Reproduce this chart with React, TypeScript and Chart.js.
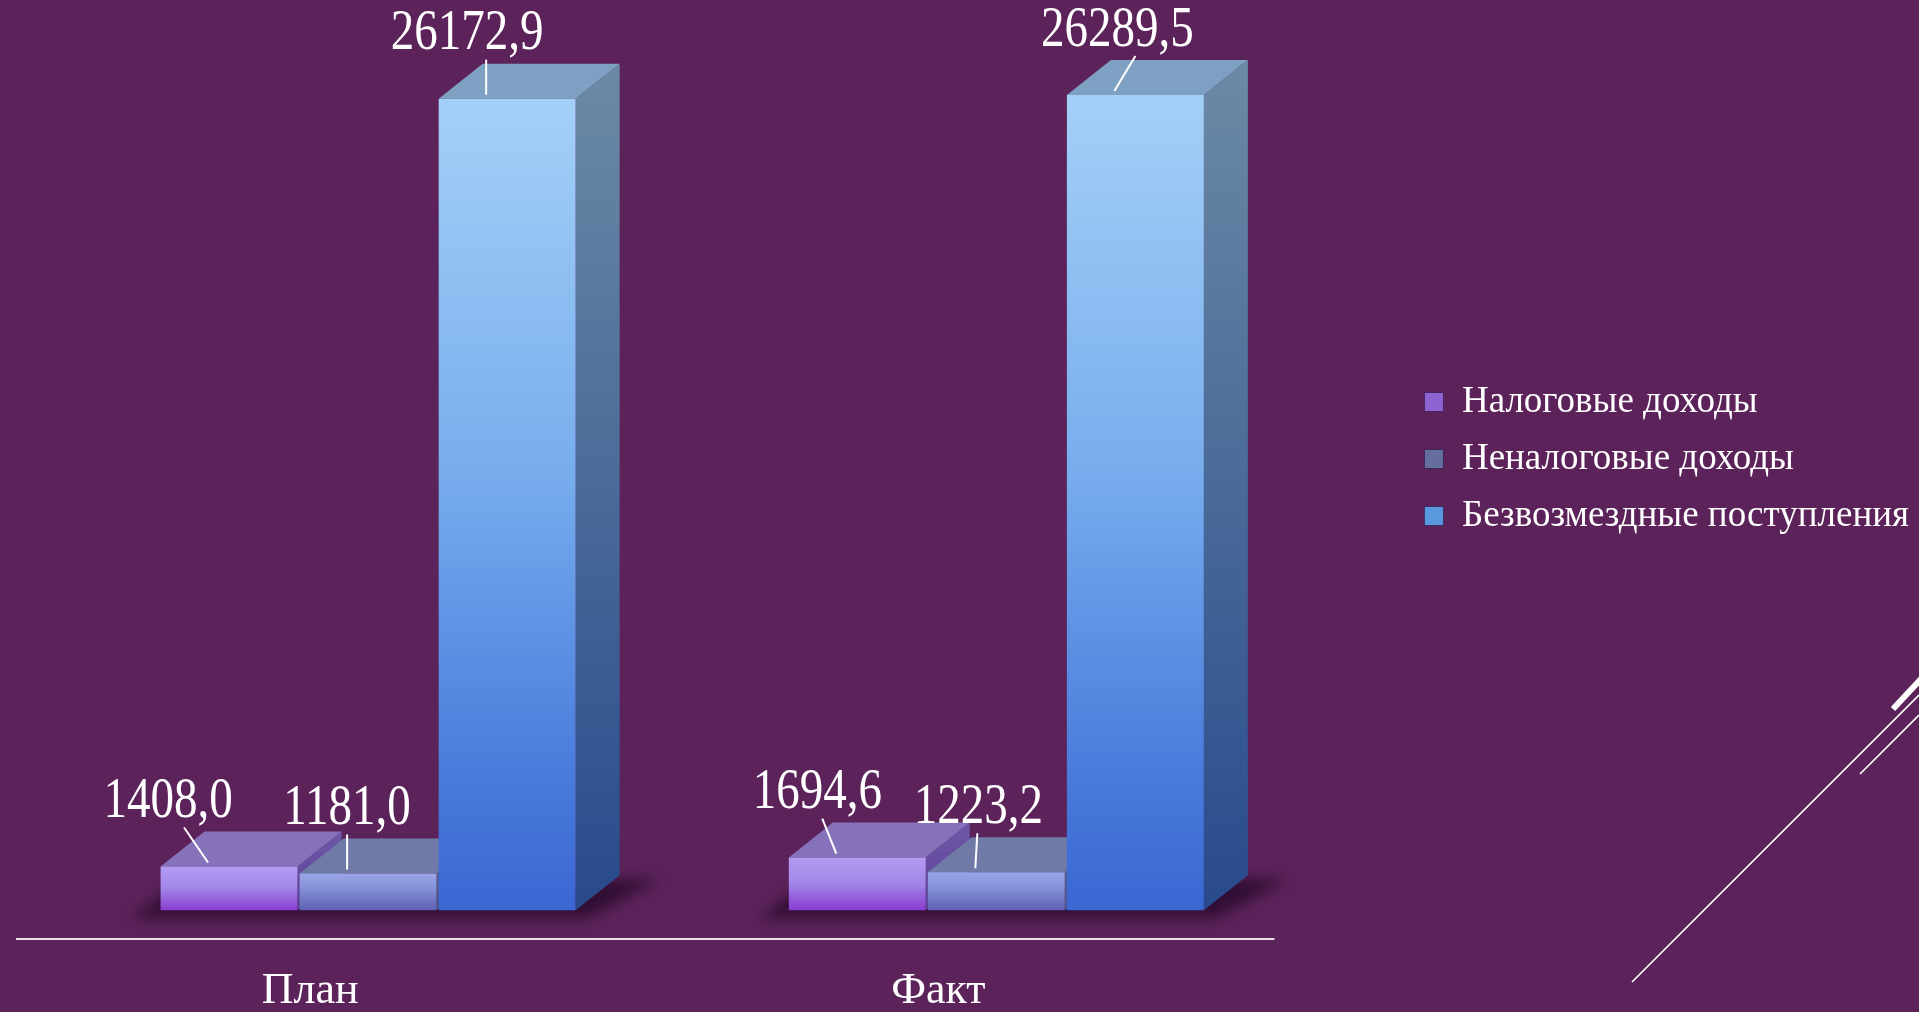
import React, { useEffect, useRef } from 'react';
import { Chart, registerables } from 'chart.js';

Chart.register(...registerables);

// ---------- data ----------
const CATEGORIES = ['План', 'Факт'];
const SERIES_NAMES = ['Налоговые доходы', 'Неналоговые доходы', 'Безвозмездные поступления'];
const TAX_REVENUE = [1408.0, 1694.6];
const NON_TAX_REVENUE = [1181.0, 1223.2];
const GRANTS = [26172.9, 26289.5];
const SERIES_VALUES = [TAX_REVENUE, NON_TAX_REVENUE, GRANTS];

const Y_MIN = -930;
const Y_MAX = 28000;

// ---------- styles / layout ----------
const FONT = '"Liberation Serif", "Times New Roman", serif';
const BG = '#5C235A';
const FRONT_STOPS: [number, string][][] = [
  [[0, '#B49CF2'], [0.5, '#A185E8'], [1, '#8A3DD0']],
  [[0, '#99A6E6'], [0.4, '#8591D8'], [1, '#5F60B3']],
  [[0, '#A3D0F7'], [0.45, '#79AEEE'], [0.8, '#4D7FDD'], [1, '#3A66D2']],
];
const SIDE_COLORS = [['#6F58A8', '#5B3F98'], ['#5F6898', '#4D5488'], ['#6C8AA5', '#284A8C']];
const TOP_COLORS = ['#8672BA', '#6F7BA6', '#7EA0C3'];
const LEGEND_COLORS = ['#8F62D2', '#666E9F', '#5A98E0'];
const DEPTH_X = 44;
const DEPTH_Y = 35;
const LABEL_DX = [[-61, -40], [-21, -18], [-40, -18]];
const LEADER_DX = [[-45, -35], [-21, -19], [-21, 0]];

const fmt = (v: number) => v.toFixed(1).replace('.', ',');

const bar3d = {
  id: 'bar3d',
  beforeDatasetsDraw(chart: any) {
    const ctx = chart.ctx;
    const bars: any[] = [];
    chart.data.datasets.forEach((_: any, di: number) => {
      const meta = chart.getDatasetMeta(di);
      meta.data.forEach((el: any, i: number) => {
        bars.push({ di, i, p: el.getProps(['x', 'y', 'base', 'width'], true) });
      });
    });
    // floor shadows
    CATEGORIES.forEach((_, ci) => {
      const group = bars.filter((b) => b.i === ci);
      if (!group.length) return;
      const left = Math.min(...group.map((b) => b.p.x - b.p.width / 2));
      const right = Math.max(...group.map((b) => b.p.x + b.p.width / 2));
      const base = group[0].p.base;
      ctx.save();
      ctx.filter = 'blur(7px)';
      ctx.fillStyle = 'rgba(30,6,36,0.7)';
      ctx.beginPath();
      ctx.moveTo(left - 30, base + 8);
      ctx.lineTo(right + 12, base + 8);
      ctx.lineTo(right + DEPTH_X + 40, base - DEPTH_Y + 4);
      ctx.lineTo(left + DEPTH_X - 20, base - DEPTH_Y + 4);
      ctx.closePath();
      ctx.fill();
      ctx.restore();
    });
    // side and top faces, left to right
    bars.sort((a, b) => a.p.x - b.p.x);
    for (const b of bars) {
      const { x, y, base, width } = b.p;
      const l = x - width / 2;
      const r = x + width / 2;
      ctx.save();
      const g = ctx.createLinearGradient(0, y - DEPTH_Y, 0, base);
      g.addColorStop(0, SIDE_COLORS[b.di][0]);
      g.addColorStop(1, SIDE_COLORS[b.di][1]);
      ctx.fillStyle = g;
      ctx.beginPath();
      ctx.moveTo(r, y);
      ctx.lineTo(r + DEPTH_X, y - DEPTH_Y);
      ctx.lineTo(r + DEPTH_X, base - DEPTH_Y);
      ctx.lineTo(r, base);
      ctx.closePath();
      ctx.fill();
      ctx.fillStyle = TOP_COLORS[b.di];
      ctx.beginPath();
      ctx.moveTo(l, y);
      ctx.lineTo(l + DEPTH_X, y - DEPTH_Y);
      ctx.lineTo(r + DEPTH_X, y - DEPTH_Y);
      ctx.lineTo(r, y);
      ctx.closePath();
      ctx.fill();
      ctx.restore();
    }
  },
  afterDatasetsDraw(chart: any) {
    const ctx = chart.ctx;
    ctx.save();
    ctx.fillStyle = '#FFFFFF';
    ctx.strokeStyle = '#FFFFFF';
    ctx.lineWidth = 2;
    ctx.font = `47px ${FONT}`;
    ctx.textAlign = 'center';
    ctx.textBaseline = 'middle';
    chart.data.datasets.forEach((ds: any, di: number) => {
      const meta = chart.getDatasetMeta(di);
      meta.data.forEach((el: any, i: number) => {
        const { x, y } = el.getProps(['x', 'y'], true);
        ctx.beginPath();
        ctx.moveTo(x + LEADER_DX[di][i], y - 39);
        ctx.lineTo(x - 21, y - 4);
        ctx.stroke();
        ctx.save();
        ctx.translate(x + LABEL_DX[di][i], y - 64);
        ctx.scale(1, 1.2);
        ctx.fillText(fmt(ds.data[i]), 0, 0);
        ctx.restore();
      });
    });
    ctx.restore();
  },
  afterDraw(chart: any) {
    const ctx = chart.ctx;
    const { left, right, bottom } = chart.chartArea;
    ctx.save();
    // category axis line (front edge of the 3D floor)
    ctx.strokeStyle = '#EDE3EE';
    ctx.lineWidth = 2;
    ctx.beginPath();
    ctx.moveTo(left - 38, bottom);
    ctx.lineTo(right - 36, bottom);
    ctx.stroke();
    // slide decoration
    ctx.strokeStyle = '#FFFFFF';
    ctx.lineCap = 'butt';
    ctx.lineWidth = 1.6;
    ctx.beginPath();
    ctx.moveTo(1632, 982);
    ctx.lineTo(1919, 695);
    ctx.moveTo(1860, 774);
    ctx.lineTo(1919, 715);
    ctx.stroke();
    ctx.lineWidth = 6;
    ctx.beginPath();
    ctx.moveTo(1893, 709);
    ctx.lineTo(1922, 678);
    ctx.stroke();
    ctx.restore();
  },
};

export default function App() {
  const ref = useRef<HTMLCanvasElement | null>(null);
  useEffect(() => {
    if (!ref.current) return;
    const chart = new Chart(ref.current, {
      type: 'bar',
      data: {
        labels: CATEGORIES,
        datasets: SERIES_NAMES.map((name, di) => ({
          label: name,
          data: SERIES_VALUES[di],
          backgroundColor: (c: any) => {
            const ch = c.chart;
            if (!ch.chartArea || c.type !== 'data') return FRONT_STOPS[di][0][1];
            const ys = ch.scales.y;
            const top = ys.getPixelForValue(c.parsed.y);
            const base = ys.getPixelForValue(0);
            const g = ch.ctx.createLinearGradient(0, top, 0, base);
            FRONT_STOPS[di].forEach(([o, col]) => g.addColorStop(o, col));
            return g;
          },
          borderWidth: 0,
          categoryPercentage: 0.664,
          barPercentage: 0.985,
        })),
      },
      options: {
        animation: false,
        responsive: true,
        maintainAspectRatio: false,
        layout: { padding: { top: 42, bottom: 0, left: 0, right: 0 } },
        scales: {
          x: {
            grid: { display: false, drawTicks: false },
            border: { display: false },
            ticks: {
              color: '#FFFFFF',
              font: { family: FONT, size: 44, lineHeight: 1 },
              padding: 30,
              labelOffset: -58,
              maxRotation: 0,
              autoSkip: false,
            },
          },
          y: {
            min: Y_MIN,
            max: Y_MAX,
            ticks: { display: false },
            grid: { display: false },
            border: { display: false },
            afterFit: (s: any) => { s.width = 54; },
          },
          yR: {
            position: 'right',
            ticks: { display: false },
            grid: { display: false },
            border: { display: false },
            afterFit: (s: any) => { s.width = 94; },
          },
        },
        plugins: {
          tooltip: { enabled: false },
          legend: {
            position: 'right',
            align: 'start',
            maxWidth: 700,
            title: {
              display: true,
              text: ' ',
              color: 'rgba(0,0,0,0)',
              font: { size: 10, lineHeight: 1 },
              padding: { top: 0, bottom: 311.5 },
            },
            labels: {
              color: '#FFFFFF',
              font: { family: FONT, size: 37 },
              boxWidth: 19,
              boxHeight: 19,
              padding: 20,
              generateLabels: (ch: any) => {
                const items = Chart.defaults.plugins.legend.labels.generateLabels(ch);
                return items.map((it: any, k: number) => ({
                  ...it,
                  fillStyle: LEGEND_COLORS[k],
                  strokeStyle: 'rgba(40,20,60,0.6)',
                  lineWidth: 1,
                }));
              },
            },
          },
        },
      },
      plugins: [bar3d],
    } as any);
    return () => chart.destroy();
  }, []);

  return (
    <div
      style={{
        position: 'fixed',
        left: 0,
        top: 0,
        width: '100vw',
        height: '100vh',
        overflow: 'hidden',
        background: BG,
      }}
    >
      <div style={{ position: 'relative', width: '100%', height: '1043px' }}>
        <canvas ref={ref} />
      </div>
    </div>
  );
}
